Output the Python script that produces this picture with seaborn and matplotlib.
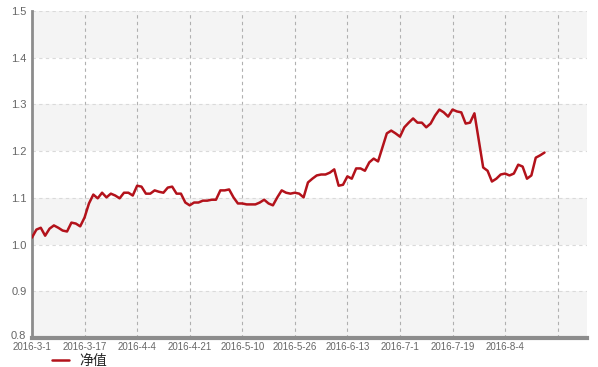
import numpy as np
import pandas as pd
import matplotlib
matplotlib.use("Agg")
import matplotlib.pyplot as plt
import matplotlib.transforms as mtransforms
import seaborn as sns

# Net value series
values = [
    1.015, 1.032, 1.036, 1.019, 1.034, 1.041, 1.036, 1.030, 1.028, 1.047,
    1.045, 1.039, 1.058, 1.088, 1.107, 1.099, 1.111, 1.101, 1.109, 1.105,
    1.099, 1.111, 1.111, 1.105, 1.126, 1.124, 1.109, 1.109, 1.116, 1.113,
    1.111, 1.122, 1.124, 1.109, 1.109, 1.090, 1.084, 1.090, 1.090, 1.094,
    1.094, 1.096, 1.096, 1.116, 1.116, 1.118, 1.101, 1.088, 1.088, 1.086,
    1.086, 1.086, 1.090, 1.096, 1.088, 1.084, 1.101, 1.116, 1.111, 1.109,
    1.111, 1.109, 1.101, 1.133, 1.141, 1.148, 1.150, 1.150, 1.154, 1.161,
    1.126, 1.128, 1.146, 1.141, 1.163, 1.163, 1.158, 1.176, 1.184, 1.178,
    1.208, 1.238, 1.244, 1.238, 1.231, 1.251, 1.261, 1.270, 1.261, 1.261,
    1.251, 1.259, 1.276, 1.289, 1.283, 1.274, 1.289, 1.285, 1.283, 1.259,
    1.261, 1.281, 1.223, 1.165, 1.158, 1.135, 1.141, 1.150, 1.152, 1.148,
    1.152, 1.171, 1.167, 1.141, 1.148, 1.186, 1.191, 1.197,
]
tick_labels = ["2016-3-1", "2016-3-17", "2016-4-4", "2016-4-21", "2016-5-10",
               "2016-5-26", "2016-6-13", "2016-7-1", "2016-7-19", "2016-8-4", ""]
y_ticks = [0.8, 0.9, 1.0, 1.1, 1.2, 1.3, 1.4, 1.5]
series_name = "净值"

df = pd.DataFrame({"idx": np.arange(len(values)), "value": values})

sns.set_theme(style="white")
plt.rcParams["font.family"] = ["Liberation Sans", "Noto Sans CJK SC", "DejaVu Sans"]

fig = plt.figure(figsize=(5.98, 3.67), dpi=100)
ax = fig.add_axes([32 / 598, 1 - 338 / 367, (587 - 32) / 598, (338 - 11) / 367])

# alternating background bands
for i in range(len(y_ticks) - 1):
    if i % 2 == 0:
        ax.axhspan(y_ticks[i], y_ticks[i + 1], color="#f4f4f4", zorder=0, lw=0)

sns.lineplot(data=df, x="idx", y="value", ax=ax, color="#b3121b", lw=1.8,
             label=series_name, zorder=3)

tick_pos = [12 * i for i in range(len(tick_labels))]
ax.set_xticks(tick_pos)
ax.set_xticklabels(tick_labels)
ax.set_yticks(y_ticks)
ax.set_yticklabels([f"{v:.1f}" for v in y_ticks])
ax.set_xlim(0, 126.7)
ax.set_ylim(0.8, 1.5)
ax.set_xlabel("")
ax.set_ylabel("")

ax.grid(True, axis="x", color="#b0b0b0", linestyle=(0, (3, 3)), lw=0.8, zorder=1)
ax.grid(True, axis="y", color="#dadada", linestyle=(0, (3, 3)), lw=0.8, zorder=1)

for s in ["top", "right"]:
    ax.spines[s].set_visible(False)
ax.spines["left"].set_color("#8c8c8c")
ax.spines["left"].set_linewidth(2)
ax.spines["bottom"].set_color("#8c8c8c")
ax.spines["bottom"].set_linewidth(3)

ax.tick_params(axis="both", length=0, labelcolor="#666666")
ax.tick_params(axis="x", labelsize=7, pad=3)
ax.tick_params(axis="y", labelsize=8, pad=4)

# lift the bottom y label slightly (as in the reference)
lbl = ax.get_yticklabels()[0]
lbl.set_transform(lbl.get_transform() +
                  mtransforms.ScaledTranslation(0, 3.5 / 100, fig.dpi_scale_trans))

ax.legend(loc="upper left", bbox_to_anchor=(52 / 598, 1 - 354 / 367),
          bbox_transform=fig.transFigure, frameon=False, fontsize=10,
          handlelength=1.2, handletextpad=0.8, borderaxespad=0, borderpad=0)

fig.savefig("out.png", dpi=100)
